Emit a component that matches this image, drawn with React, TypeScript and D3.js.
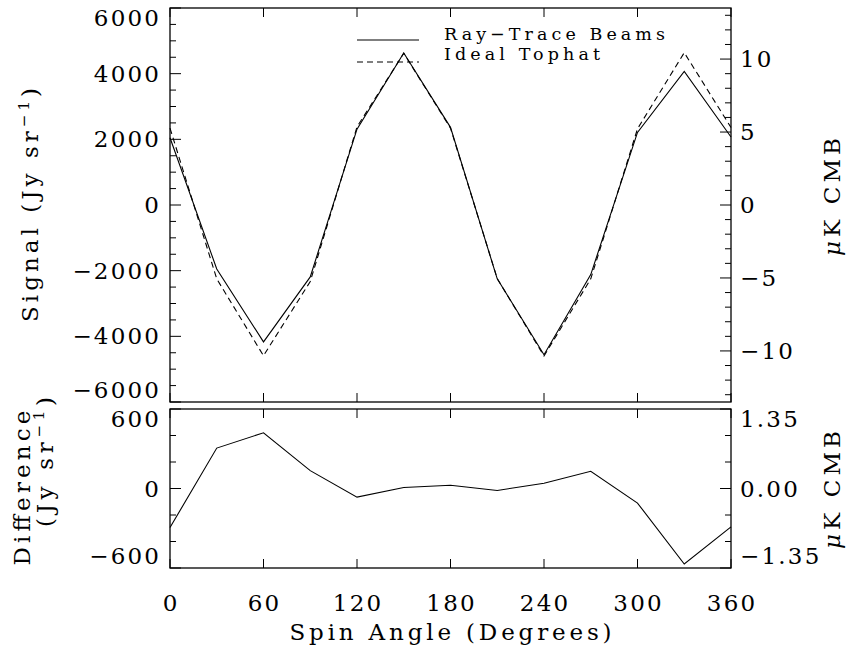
import React from "react";
import * as d3 from "d3";

const angles = [0, 30, 60, 90, 120, 150, 180, 210, 240, 270, 300, 330, 360];
const rayTrace = [2050, -1950, -4170, -2190, 2310, 4630, 2365, -2250, -4560, -2120, 2210, 4070, 2070];
const idealTophat = [2340, -2250, -4590, -2330, 2380, 4620, 2340, -2240, -4600, -2250, 2320, 4640, 2360];
const difference = [-295, 305, 420, 135, -65, 8, 25, -15, 40, 130, -110, -570, -290];

const angleTicks = [0, 60, 120, 180, 240, 300, 360];
const signalTicks = [-6000, -4000, -2000, 0, 2000, 4000, 6000];
const cmbTicks = [-10, -5, 0, 5, 10];
const diffTicks = [-600, 0, 600];
const diffCmbTicks = [-1.35, 0, 1.35];
const diffCmbLabels = ["\u22121.35", "0.00", "1.35"];

const FONT = "DejaVu Serif";
const fmt = (v: number) => (v < 0 ? "\u2212" + Math.abs(v) : String(v));

export default function App() {
  const L = 170, R = 731;
  const T1 = 8, B1 = 402, T2 = 409, B2 = 568;
  const x = d3.scaleLinear().domain([0, 360]).range([L, R]);
  const yTop = d3.scaleLinear().domain([-6000, 6000]).range([B1, T1]);
  const yTopR = d3.scaleLinear().domain([-13.5, 13.5]).range([B1, T1]);
  const yBot = d3.scaleLinear().domain([-600, 600]).range([B2, T2]);
  const yBotR = d3.scaleLinear().domain([-1.35, 1.35]).range([B2, T2]);

  const lineTop = (vals: number[]) =>
    d3.line<number>().x((_, i) => x(angles[i])).y((d) => yTop(d))(vals) || "";
  const lineBot =
    d3.line<number>().x((_, i) => x(angles[i])).y((d) => yBot(d))(difference) || "";

  const MAJ = 11, MIN = 6, XT = 9;
  const ls = 2.2;
  const fs = 23;

  const leftMinorTop = d3.range(-6000, 6001, 500);
  const rightMinorTop = d3.range(-13, 14, 1);
  const leftMinorBot = d3.range(-600, 601, 200);
  const rightMinorBot = d3.range(-3, 4).map((k) => k * 0.45);

  const ticks: React.ReactNode[] = [];
  let k = 0;
  const tk = (x1: number, y1: number, x2: number, y2: number) =>
    ticks.push(<line key={"t" + k++} x1={x1} y1={y1} x2={x2} y2={y2} stroke="#000" strokeWidth={1} />);

  angleTicks.forEach((a) => {
    const xx = x(a);
    tk(xx, T1, xx, T1 + XT);
    tk(xx, B1, xx, B1 - XT);
    tk(xx, T2, xx, T2 + XT);
    tk(xx, B2, xx, B2 - XT);
  });
  leftMinorTop.forEach((v) => {
    const len = v % 2000 === 0 ? MAJ : MIN;
    tk(L, yTop(v), L + len, yTop(v));
  });
  rightMinorTop.forEach((v) => {
    const len = v % 5 === 0 ? MAJ : MIN;
    tk(R, yTopR(v), R - len, yTopR(v));
  });
  leftMinorBot.forEach((v) => {
    const len = v % 600 === 0 ? MAJ : MIN;
    tk(L, yBot(v), L + len, yBot(v));
  });
  rightMinorBot.forEach((v, i) => {
    const len = i % 3 === 0 ? MAJ : MIN;
    tk(R, yBotR(v), R - len, yBotR(v));
  });

  const leftBase = (y: number, top: number, bot: number) =>
    Math.abs(y - top) < 1 ? y + 18 : Math.abs(y - bot) < 1 ? y - 4 : y + 8;

  const textProps = { fontFamily: FONT, fontSize: fs, letterSpacing: ls, fill: "#000" };

  return (
    <svg
      width={862}
      height={651}
      style={{ display: "block", position: "absolute", left: 0, top: 0, background: "#fff" }}
    >
      <rect width={862} height={651} fill="#fff" />
      <rect x={L} y={T1} width={R - L} height={B1 - T1} fill="none" stroke="#000" strokeWidth={1.3} />
      <rect x={L} y={T2} width={R - L} height={B2 - T2} fill="none" stroke="#000" strokeWidth={1.3} />
      {ticks}

      <path d={lineTop(rayTrace)} fill="none" stroke="#000" strokeWidth={1.1} />
      <path d={lineTop(idealTophat)} fill="none" stroke="#000" strokeWidth={1.1} strokeDasharray="6,4" />
      <path d={lineBot} fill="none" stroke="#000" strokeWidth={1.1} />

      {/* legend */}
      <line x1={357} y1={40} x2={419} y2={40} stroke="#000" strokeWidth={1.1} />
      <line x1={357} y1={62} x2={419} y2={62} stroke="#000" strokeWidth={1.1} strokeDasharray="6,4" />
      <text x={444} y={40} fontFamily={FONT} fontSize={17.5} textLength={221} lengthAdjust="spacing">
        Ray{"\u2212"}Trace Beams
      </text>
      <text x={444} y={60} fontFamily={FONT} fontSize={17.5} textLength={156} lengthAdjust="spacing">
        Ideal Tophat
      </text>

      {signalTicks.map((v) => (
        <text key={"ls" + v} x={159 + ls} y={leftBase(yTop(v), T1, B1)} textAnchor="end" {...textProps}>
          {fmt(v)}
        </text>
      ))}
      {cmbTicks.map((v) => (
        <text key={"rs" + v} x={740} y={yTopR(v) + 8} textAnchor="start" {...textProps}>
          {fmt(v)}
        </text>
      ))}
      {diffTicks.map((v) => (
        <text key={"lb" + v} x={159 + ls} y={leftBase(yBot(v), T2, B2)} textAnchor="end" {...textProps}>
          {fmt(v)}
        </text>
      ))}
      {diffCmbTicks.map((v, i) => (
        <text key={"rb" + i} x={740} y={leftBase(yBotR(v), T2, B2)} textAnchor="start" {...textProps}>
          {diffCmbLabels[i]}
        </text>
      ))}
      {angleTicks.map((a) => (
        <text key={"x" + a} x={x(a) + ls / 2} y={611} textAnchor="middle" {...textProps}>
          {a}
        </text>
      ))}

      <text x={450.5} y={640} textAnchor="middle" fontFamily={FONT} fontSize={23} textLength={322} lengthAdjust="spacing">
        Spin Angle (Degrees)
      </text>
      <text transform="translate(38,205) rotate(-90)" textAnchor="middle" fontFamily={FONT} fontSize={23} textLength={234} lengthAdjust="spacing">
        Signal (Jy sr<tspan dy={-9} fontSize={15}>{"\u22121"}</tspan><tspan dy={9}>)</tspan>
      </text>
      <text transform="translate(30,488) rotate(-90)" textAnchor="middle" fontFamily={FONT} fontSize={23} textLength={155} lengthAdjust="spacing">
        Difference
      </text>
      <text transform="translate(53,462) rotate(-90)" textAnchor="middle" fontFamily={FONT} fontSize={23} textLength={130} lengthAdjust="spacing">
        (Jy sr<tspan dy={-9} fontSize={15}>{"\u22121"}</tspan><tspan dy={9}>)</tspan>
      </text>
      <text transform="translate(840,197) rotate(-90)" textAnchor="middle" fontFamily={FONT} fontSize={23} textLength={118} lengthAdjust="spacing">
        <tspan fontStyle="italic">{"\u03bc"}</tspan>K CMB
      </text>
      <text transform="translate(840,490) rotate(-90)" textAnchor="middle" fontFamily={FONT} fontSize={23} textLength={118} lengthAdjust="spacing">
        <tspan fontStyle="italic">{"\u03bc"}</tspan>K CMB
      </text>
    </svg>
  );
}
